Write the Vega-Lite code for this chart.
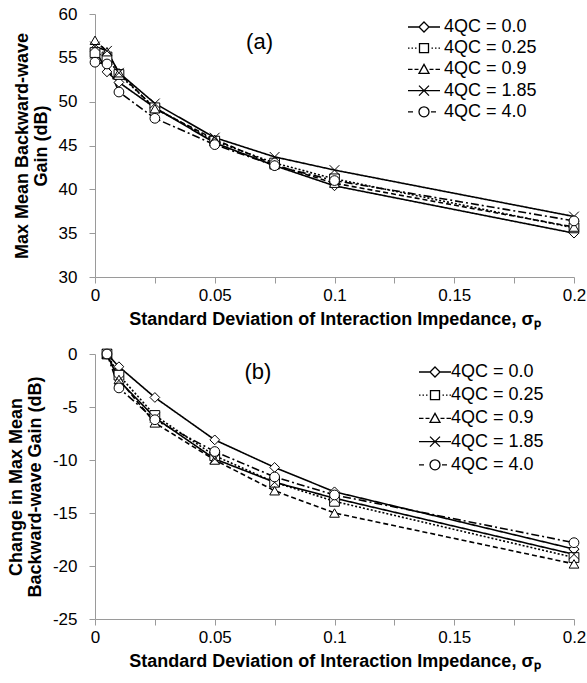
{
  "$schema": "https://vega.github.io/schema/vega-lite/v6.json",
  "background": "white",
  "padding": {"left": 7, "top": 5, "right": 5, "bottom": 5},
  "spacing": 17,
  "datasets": {
    "a": [
      {"s": "4QC = 0.0", "x": 0, "y": 56.0}, {"s": "4QC = 0.0", "x": 0.005, "y": 53.4}, {"s": "4QC = 0.0", "x": 0.01, "y": 52.2}, {"s": "4QC = 0.0", "x": 0.025, "y": 49.3}, {"s": "4QC = 0.0", "x": 0.05, "y": 45.3}, {"s": "4QC = 0.0", "x": 0.075, "y": 42.7}, {"s": "4QC = 0.0", "x": 0.1, "y": 40.4}, {"s": "4QC = 0.0", "x": 0.2, "y": 35.0},
      {"s": "4QC = 0.25", "x": 0, "y": 55.6}, {"s": "4QC = 0.25", "x": 0.005, "y": 55.1}, {"s": "4QC = 0.25", "x": 0.01, "y": 53.1}, {"s": "4QC = 0.25", "x": 0.025, "y": 49.3}, {"s": "4QC = 0.25", "x": 0.05, "y": 45.5}, {"s": "4QC = 0.25", "x": 0.075, "y": 43.0}, {"s": "4QC = 0.25", "x": 0.1, "y": 41.2}, {"s": "4QC = 0.25", "x": 0.2, "y": 35.6},
      {"s": "4QC = 0.9", "x": 0, "y": 57.0}, {"s": "4QC = 0.9", "x": 0.005, "y": 55.7}, {"s": "4QC = 0.9", "x": 0.01, "y": 53.3}, {"s": "4QC = 0.9", "x": 0.025, "y": 49.2}, {"s": "4QC = 0.9", "x": 0.05, "y": 45.7}, {"s": "4QC = 0.9", "x": 0.075, "y": 42.8}, {"s": "4QC = 0.9", "x": 0.1, "y": 40.7}, {"s": "4QC = 0.9", "x": 0.2, "y": 35.7},
      {"s": "4QC = 1.85", "x": 0, "y": 56.3}, {"s": "4QC = 1.85", "x": 0.005, "y": 55.8}, {"s": "4QC = 1.85", "x": 0.01, "y": 53.3}, {"s": "4QC = 1.85", "x": 0.025, "y": 49.8}, {"s": "4QC = 1.85", "x": 0.05, "y": 45.9}, {"s": "4QC = 1.85", "x": 0.075, "y": 43.7}, {"s": "4QC = 1.85", "x": 0.1, "y": 42.2}, {"s": "4QC = 1.85", "x": 0.2, "y": 36.9},
      {"s": "4QC = 4.0", "x": 0, "y": 54.5}, {"s": "4QC = 4.0", "x": 0.005, "y": 54.3}, {"s": "4QC = 4.0", "x": 0.01, "y": 51.1}, {"s": "4QC = 4.0", "x": 0.025, "y": 48.1}, {"s": "4QC = 4.0", "x": 0.05, "y": 45.1}, {"s": "4QC = 4.0", "x": 0.075, "y": 42.7}, {"s": "4QC = 4.0", "x": 0.1, "y": 41.0}, {"s": "4QC = 4.0", "x": 0.2, "y": 36.4}
    ],
    "b": [
      {"s": "4QC = 0.0", "x": 0.005, "y": 0}, {"s": "4QC = 0.0", "x": 0.01, "y": -1.2}, {"s": "4QC = 0.0", "x": 0.025, "y": -4.1}, {"s": "4QC = 0.0", "x": 0.05, "y": -8.1}, {"s": "4QC = 0.0", "x": 0.075, "y": -10.7}, {"s": "4QC = 0.0", "x": 0.1, "y": -13.0}, {"s": "4QC = 0.0", "x": 0.2, "y": -18.4},
      {"s": "4QC = 0.25", "x": 0.005, "y": 0}, {"s": "4QC = 0.25", "x": 0.01, "y": -2.0}, {"s": "4QC = 0.25", "x": 0.025, "y": -5.8}, {"s": "4QC = 0.25", "x": 0.05, "y": -9.6}, {"s": "4QC = 0.25", "x": 0.075, "y": -12.1}, {"s": "4QC = 0.25", "x": 0.1, "y": -13.9}, {"s": "4QC = 0.25", "x": 0.2, "y": -19.2},
      {"s": "4QC = 0.9", "x": 0.005, "y": 0}, {"s": "4QC = 0.9", "x": 0.01, "y": -2.4}, {"s": "4QC = 0.9", "x": 0.025, "y": -6.5}, {"s": "4QC = 0.9", "x": 0.05, "y": -10.0}, {"s": "4QC = 0.9", "x": 0.075, "y": -12.9}, {"s": "4QC = 0.9", "x": 0.1, "y": -15.0}, {"s": "4QC = 0.9", "x": 0.2, "y": -19.8},
      {"s": "4QC = 1.85", "x": 0.005, "y": 0}, {"s": "4QC = 1.85", "x": 0.01, "y": -2.5}, {"s": "4QC = 1.85", "x": 0.025, "y": -6.0}, {"s": "4QC = 1.85", "x": 0.05, "y": -9.9}, {"s": "4QC = 1.85", "x": 0.075, "y": -12.1}, {"s": "4QC = 1.85", "x": 0.1, "y": -13.6}, {"s": "4QC = 1.85", "x": 0.2, "y": -18.9},
      {"s": "4QC = 4.0", "x": 0.005, "y": 0}, {"s": "4QC = 4.0", "x": 0.01, "y": -3.2}, {"s": "4QC = 4.0", "x": 0.025, "y": -6.2}, {"s": "4QC = 4.0", "x": 0.05, "y": -9.2}, {"s": "4QC = 4.0", "x": 0.075, "y": -11.6}, {"s": "4QC = 4.0", "x": 0.1, "y": -13.3}, {"s": "4QC = 4.0", "x": 0.2, "y": -17.8}
    ]
  },
  "vconcat": [
    {
      "width": 479,
      "height": 263,
      "layer": [
        {"data": {"name": "a"},
          "mark": {"type": "line", "color": "black", "strokeWidth": 1.6},
          "encoding": {
            "x": {"field": "x", "type": "quantitative", "scale": {"domain": [0, 0.2], "nice": false, "zero": false},
              "axis": {"title": "Standard Deviation of Interaction Impedance, σₚ", "values": [0, 0.025, 0.05, 0.075, 0.1, 0.125, 0.15, 0.175, 0.2], "format": ".3~f", "labelExpr": "round(datum.value*1000) % 50 == 0 ? datum.label : ''", "labelFlush": false, "labelPadding": 4, "titlePadding": 7}},
            "y": {"field": "y", "type": "quantitative", "scale": {"domain": [30, 60], "nice": false, "zero": false},
              "axis": {"title": ["Max Mean Backward-wave", "Gain (dB)"], "values": [30, 35, 40, 45, 50, 55, 60], "labelPadding": 12, "titlePadding": 8}},
            "strokeDash": {"field": "s", "type": "nominal", "scale": {"domain": ["4QC = 0.0", "4QC = 0.25", "4QC = 0.9", "4QC = 1.85", "4QC = 4.0"], "range": [[1, 0], [2, 2], [5, 3], [1, 0], [8, 3, 2, 3]]}, "legend": null},
            "order": {"field": "x"}}},
        {"data": {"name": "a"},
          "mark": {"type": "point", "filled": true, "fill": "white", "stroke": "black", "strokeWidth": 1, "size": 95, "opacity": 1},
          "encoding": {
            "x": {"field": "x", "type": "quantitative"},
            "y": {"field": "y", "type": "quantitative"},
            "shape": {"field": "s", "type": "nominal", "scale": {"domain": ["4QC = 0.0", "4QC = 0.25", "4QC = 0.9", "4QC = 1.85", "4QC = 4.0"], "range": ["diamond", "square", "triangle-up", "M-1,-1L1,1M-1,1L1,-1", "circle"]}, "legend": null}}},
        {"data": {"name": "a"},
          "transform": [{"filter": "false"}],
          "mark": {"type": "point", "filled": false, "color": "black", "strokeWidth": 1.3, "opacity": 1},
          "encoding": {
            "x": {"field": "x", "type": "quantitative"},
            "y": {"field": "y", "type": "quantitative"},
            "shape": {"field": "s", "type": "nominal", "scale": {"domain": ["4QC = 0.0", "4QC = 0.25", "4QC = 0.9", "4QC = 1.85", "4QC = 4.0"], "range": [
              "M-3.2,0H-1M1,0H3.2M0,-1L1,0L0,1L-1,0Z",
              "M-3.2,0H-2.9M-2.5,0H-2.2M-1.8,0H-1.5M1.5,0H1.8M2.2,0H2.5M2.9,0H3.2M-0.9,-0.9H0.9V0.9H-0.9Z",
              "M-3.2,0H-2.3M-1.9,0H-1.1M1.1,0H1.9M2.3,0H3.2M0,-1L1,0.8H-1Z",
              "M-3.2,0H3.2M-1,-1L1,1M-1,1L1,-1",
              "M-3.2,0H-2.2M1.4,0H2.4M1,0A1,1,0,1,1,-1,0A1,1,0,1,1,1,0Z"]},
              "legend": {"orient": "none", "legendX": 320, "legendY": 4, "title": null, "rowPadding": 3.2, "labelOffset": 11,
                "symbolStrokeColor": "black", "symbolOpacity": 1, "symbolStrokeWidth": 1.3}}}},
        {"data": {"values": [{"label": "(a)"}]},
          "mark": {"type": "text", "fontSize": 22, "font": "Liberation Sans", "color": "black"},
          "encoding": {"x": {"datum": 0.0687, "type": "quantitative"}, "y": {"datum": 56.8, "type": "quantitative"}, "text": {"field": "label", "type": "nominal"}}}
      ],
      "resolve": {"scale": {"shape": "independent"}, "legend": {"shape": "independent"}}
    },
    {
      "width": 479,
      "height": 265,
      "layer": [
        {"data": {"name": "b"},
          "mark": {"type": "line", "color": "black", "strokeWidth": 1.6},
          "encoding": {
            "x": {"field": "x", "type": "quantitative", "scale": {"domain": [0, 0.2], "nice": false, "zero": false},
              "axis": {"title": "Standard Deviation of Interaction Impedance, σₚ", "values": [0, 0.025, 0.05, 0.075, 0.1, 0.125, 0.15, 0.175, 0.2], "format": ".3~f", "labelExpr": "round(datum.value*1000) % 50 == 0 ? datum.label : ''", "labelFlush": false, "labelPadding": 4, "titlePadding": 7}},
            "y": {"field": "y", "type": "quantitative", "scale": {"domain": [-25, 0], "nice": false, "zero": false},
              "axis": {"title": ["Change in Max Mean", "Backward-wave Gain (dB)"], "values": [-25, -20, -15, -10, -5, 0], "labelExpr": "datum.value < 0 ? '-' + abs(datum.value) : datum.label", "labelPadding": 12, "titlePadding": 8}},
            "strokeDash": {"field": "s", "type": "nominal", "scale": {"domain": ["4QC = 0.0", "4QC = 0.25", "4QC = 0.9", "4QC = 1.85", "4QC = 4.0"], "range": [[1, 0], [2, 2], [5, 3], [1, 0], [8, 3, 2, 3]]}, "legend": null},
            "order": {"field": "x"}}},
        {"data": {"name": "b"},
          "mark": {"type": "point", "filled": true, "fill": "white", "stroke": "black", "strokeWidth": 1, "size": 95, "opacity": 1},
          "encoding": {
            "x": {"field": "x", "type": "quantitative"},
            "y": {"field": "y", "type": "quantitative"},
            "shape": {"field": "s", "type": "nominal", "scale": {"domain": ["4QC = 0.0", "4QC = 0.25", "4QC = 0.9", "4QC = 1.85", "4QC = 4.0"], "range": ["diamond", "square", "triangle-up", "M-1,-1L1,1M-1,1L1,-1", "circle"]}, "legend": null}}},
        {"data": {"name": "b"},
          "transform": [{"filter": "false"}],
          "mark": {"type": "point", "filled": false, "color": "black", "strokeWidth": 1.3, "opacity": 1},
          "encoding": {
            "x": {"field": "x", "type": "quantitative"},
            "y": {"field": "y", "type": "quantitative"},
            "shape": {"field": "s", "type": "nominal", "scale": {"domain": ["4QC = 0.0", "4QC = 0.25", "4QC = 0.9", "4QC = 1.85", "4QC = 4.0"], "range": [
              "M-3.2,0H-1M1,0H3.2M0,-1L1,0L0,1L-1,0Z",
              "M-3.2,0H-2.9M-2.5,0H-2.2M-1.8,0H-1.5M1.5,0H1.8M2.2,0H2.5M2.9,0H3.2M-0.9,-0.9H0.9V0.9H-0.9Z",
              "M-3.2,0H-2.3M-1.9,0H-1.1M1.1,0H1.9M2.3,0H3.2M0,-1L1,0.8H-1Z",
              "M-3.2,0H3.2M-1,-1L1,1M-1,1L1,-1",
              "M-3.2,0H-2.2M1.4,0H2.4M1,0A1,1,0,1,1,-1,0A1,1,0,1,1,1,0Z"]},
              "legend": {"orient": "none", "legendX": 331, "legendY": 9, "title": null, "rowPadding": 5.2, "labelOffset": 7,
                "symbolStrokeColor": "black", "symbolOpacity": 1, "symbolStrokeWidth": 1.3}}}},
        {"data": {"values": [{"label": "(b)"}]},
          "mark": {"type": "text", "fontSize": 22, "font": "Liberation Sans", "color": "black"},
          "encoding": {"x": {"datum": 0.068, "type": "quantitative"}, "y": {"datum": -1.7, "type": "quantitative"}, "text": {"field": "label", "type": "nominal"}}}
      ],
      "resolve": {"scale": {"shape": "independent"}, "legend": {"shape": "independent"}}
    }
  ],
  "resolve": {"scale": {"x": "independent", "y": "independent", "shape": "independent", "strokeDash": "independent"}, "legend": {"shape": "independent", "strokeDash": "independent"}},
  "config": {
    "view": {"stroke": null},
    "axis": {"grid": false, "domainColor": "#9a9a9a", "tickColor": "#9a9a9a", "tickSize": 6, "labelFont": "Liberation Sans", "labelFontSize": 17, "labelColor": "black", "titleFont": "Liberation Sans", "titleFontSize": 18, "titleFontWeight": "bold", "titleColor": "black", "titleLineHeight": 19},
    "legend": {"labelFont": "Liberation Sans", "labelFontSize": 18, "labelColor": "black", "padding": 0, "symbolSize": 100}
  }
}
